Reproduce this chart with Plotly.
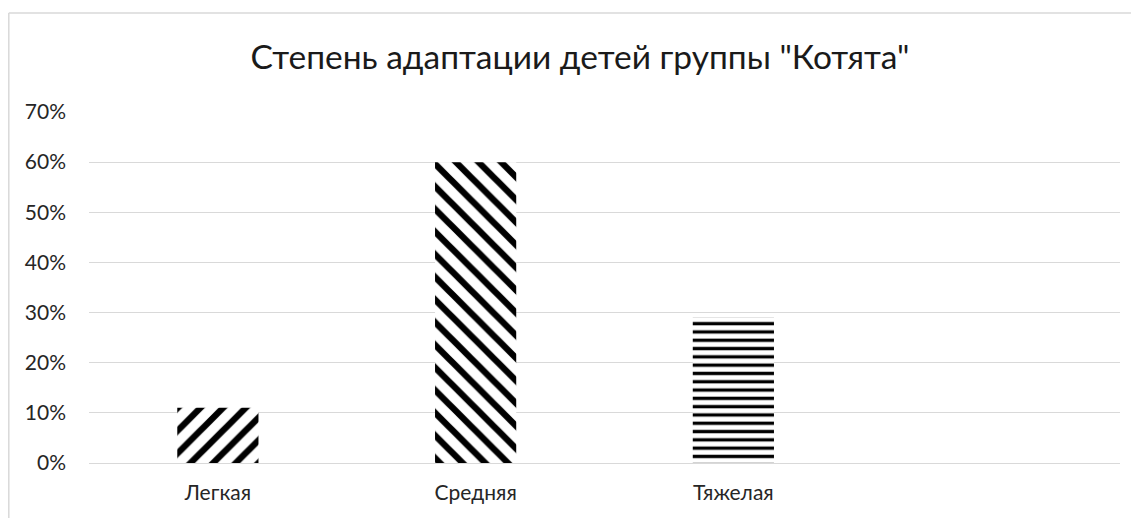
import plotly.graph_objects as go

categories = ["Легкая", "Средняя", "Тяжелая"]
values = [0.11, 0.60, 0.29]
patterns = ["/", "\\", "-"]
tick_vals = [0, 0.1, 0.2, 0.3, 0.4, 0.5, 0.6, 0.7]
tick_text = ["0%", "10%", "20%", "30%", "40%", "50%", "60%", "70%"]
title_text = 'Степень адаптации детей группы "Котята"'

# page body has an 8px margin, so the figure is sized/offset accordingly
OFF = 8
W, H = 1139 - OFF, 518 - OFF
L = 89 - OFF
T = 112 - OFF
R = W - (1120 - OFF)
B = H - (463 - OFF)
pw, ph = W - L - R, H - T - B

FONT = "Lato"

fig = go.Figure()
fig.add_trace(go.Bar(
    x=categories,
    y=values,
    marker=dict(
        color="white",
        line=dict(width=0),
        pattern=dict(
            shape=patterns,
            fgcolor="black",
            bgcolor="white",
            fgopacity=1,
            size=[16, 16, 8.3],
            solidity=[0.4, 0.4, 0.4],
        ),
    ),
    width=0.315,
    showlegend=False,
))

def px_x(p):
    return (p - OFF - L) / pw

def px_y(p):
    return (H - B - (p - OFF)) / ph

fig.update_layout(
    width=W, height=H,
    margin=dict(l=L, r=R, t=T, b=B),
    paper_bgcolor="white",
    plot_bgcolor="white",
    title=dict(text=title_text, x=(580 - OFF) / W, xref="container", xanchor="center",
               y=1 - (57 - OFF) / H, yref="container", yanchor="middle",
               font=dict(family=FONT, size=33.5, color="#1a1a1a")),
    xaxis=dict(
        type="category",
        range=[-0.5, 3.5],
        showgrid=False,
        showline=False,
        zeroline=False,
        ticks="",
        tickfont=dict(family=FONT, size=21, color="#262626"),
        ticklabelstandoff=15,
    ),
    yaxis=dict(
        range=[0, 0.7],
        tickvals=tick_vals,
        ticktext=tick_text,
        showgrid=True,
        gridcolor="#d9d9d9",
        gridwidth=1.3,
        zeroline=True,
        zerolinecolor="#d9d9d9",
        zerolinewidth=1.3,
        showline=False,
        ticks="",
        tickfont=dict(family=FONT, size=21, color="#262626"),
        ticklabelstandoff=22,
    ),
    shapes=[
        dict(type="line", xref="paper", yref="paper",
             x0=px_x(8.8), x1=px_x(8.8), y0=px_y(13), y1=px_y(530),
             line=dict(color="#d9d9d9", width=1.5)),
        dict(type="line", xref="paper", yref="paper",
             x0=px_x(8.8), x1=px_x(1150), y0=px_y(13), y1=px_y(13),
             line=dict(color="#d9d9d9", width=1.5)),
    ],
)

fig.write_html("out.html")
